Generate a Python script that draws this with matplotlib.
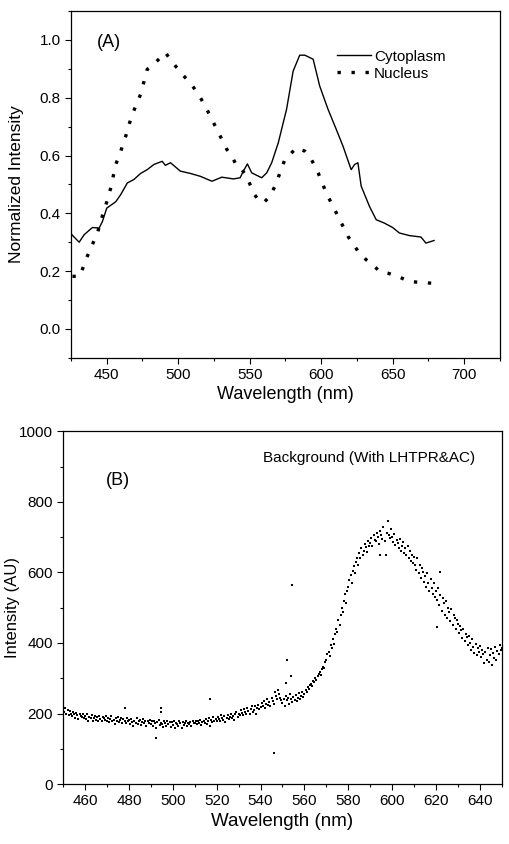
import numpy as np
import matplotlib
matplotlib.use("Agg")
import matplotlib.pyplot as plt
from matplotlib.ticker import MultipleLocator

plt.rcParams['font.family'] = ['Liberation Sans', 'DejaVu Sans']

# panel A: normalized spectra
cyto_wl = [425.6, 430.7, 434.2, 440.0, 444.7, 447.0, 450.0, 456.3, 459.8, 464.4, 469.0, 473.7,
           478.3, 483.0, 488.8, 491.0, 494.6, 501.5, 508.5, 515.5, 523.6, 530.5, 538.7, 543.3,
           545.6, 548.4, 551.4, 558.4, 561.9, 565.4, 570.0, 575.8, 580.4, 585.0, 588.6, 594.4,
           599.0, 604.8, 610.6, 615.3, 621.0, 623.4, 625.7, 628.0, 633.8, 638.5, 644.3, 650.0,
           654.7, 661.7, 669.8, 673.3, 679.0]
cyto_int = [0.326, 0.300, 0.326, 0.351, 0.349, 0.372, 0.418, 0.440, 0.465, 0.505, 0.517, 0.538,
            0.551, 0.569, 0.580, 0.566, 0.575, 0.546, 0.538, 0.528, 0.511, 0.525, 0.519, 0.523,
            0.546, 0.571, 0.540, 0.523, 0.540, 0.575, 0.644, 0.760, 0.892, 0.947, 0.947, 0.933,
            0.840, 0.760, 0.690, 0.632, 0.551, 0.569, 0.575, 0.494, 0.424, 0.378, 0.366, 0.351,
            0.332, 0.323, 0.318, 0.297, 0.306]

nuc_wl = [426.0, 431.2, 435.4, 438.9, 443.5, 447.0, 450.5, 452.8, 456.3, 459.8, 463.3, 466.7,
          470.2, 473.7, 478.3, 483.0, 487.6, 491.0, 498.0, 505.0, 510.8, 515.5, 518.9, 522.4,
          525.9, 529.4, 534.0, 537.5, 541.0, 544.5, 548.0, 552.6, 556.0, 559.6, 564.2, 567.7,
          571.2, 574.6, 578.1, 582.8, 588.6, 593.2, 597.9, 603.6, 608.3, 611.8, 615.3, 618.8,
          623.4, 626.9, 631.6, 636.2, 640.8, 646.6, 653.6, 661.7, 669.8, 677.9]
nuc_int = [0.182, 0.182, 0.240, 0.280, 0.332, 0.392, 0.447, 0.488, 0.569, 0.615, 0.667, 0.725,
           0.771, 0.812, 0.898, 0.916, 0.939, 0.956, 0.910, 0.869, 0.835, 0.800, 0.771, 0.736,
           0.702, 0.667, 0.621, 0.598, 0.563, 0.551, 0.528, 0.470, 0.447, 0.436, 0.459, 0.494,
           0.540, 0.586, 0.603, 0.627, 0.615, 0.586, 0.540, 0.470, 0.424, 0.390, 0.355, 0.320,
           0.286, 0.262, 0.239, 0.222, 0.199, 0.193, 0.182, 0.164, 0.161, 0.158]

# panel B: background scatter, sampled every 0.5 nm from 450 to 650
bg_wl = np.arange(450, 650.5, 0.5)
bg_int = [
    222, 205, 215, 198, 210, 195, 208, 200, 192, 205, 198, 188, 202, 195, 185, 200, 192, 190, 198, 186,
    192, 185, 198, 180, 190, 187, 195, 178, 188, 192, 183, 190, 180, 194, 185, 178, 190, 186, 182, 192,
    180, 188, 175, 185, 192, 178, 183, 170, 186, 180, 190, 176, 182, 188, 174, 185, 180, 172, 186, 178,
    182, 170, 185, 176, 165, 180, 174, 188, 170, 178, 182, 168, 175, 185, 172, 178, 166, 180, 174, 183,
    170, 178, 165, 180, 172, 160, 176, 182, 168, 174, 170, 163, 178, 172, 166, 180, 170, 175, 162, 176,
    168, 178, 160, 174, 170, 165, 180, 172, 158, 175, 168, 172, 178, 165, 174, 170, 176, 166, 180, 172,
    174, 180, 170, 178, 172, 182, 168, 176, 180, 174, 185, 170, 178, 188, 165, 182, 176, 190, 180, 185,
    180, 190, 184, 178, 195, 186, 182, 192, 175, 188, 196, 184, 190, 200, 186, 194, 182, 198, 205, 190,
    200, 196, 210, 202, 195, 212, 205, 200, 216, 208, 198, 214, 220, 205, 210, 222, 200, 215, 225, 212,
    218, 230, 222, 235, 215, 228, 240, 225, 232, 220, 245, 236, 228, 262, 250, 240, 268, 255, 245, 238,
    230, 242, 220, 250, 238, 245, 228, 255, 240, 232, 248, 238, 252, 236, 244, 258, 240, 250, 262, 248,
    255, 268, 262, 275, 270, 280, 285, 278, 292, 288, 300, 296, 305, 312, 318, 310, 325, 332, 328, 345,
    352, 368, 375, 362, 395, 385, 410, 398, 425, 440, 432, 465, 450, 478, 500, 488, 520, 540, 512, 548,
    560, 578, 592, 570, 605, 618, 598, 630, 642, 622, 655, 640, 668, 650, 662, 680, 672, 658, 690, 676,
    682, 698, 675, 705, 692, 688, 712, 700, 680, 718, 705, 695, 728, 690, 650, 712, 745, 705, 698, 722,
    700, 685, 708, 678, 692, 682, 670, 695, 660, 675, 685, 655, 668, 648, 675, 640, 660, 632, 650, 628,
    645, 622, 608, 640, 598, 620, 585, 612, 600, 572, 590, 560, 598, 570, 548, 582, 556, 540, 570, 530,
    548, 522, 555, 508, 535, 490, 528, 512, 480, 520, 470, 500, 488, 462, 495, 450, 478, 470, 440, 465,
    455, 428, 448, 438, 415, 440, 405, 425, 418, 395, 420, 400, 380, 410, 388, 372, 398, 365, 385, 375,
    392, 360, 380, 370, 342, 375, 352, 385, 345, 365, 382, 338, 372, 358, 388, 352, 378, 368, 395, 380,
    385,
]
# stray points off the main trend
out_wl = [478.4, 492.4, 494.4, 494.6, 517.0, 546.0, 551.7, 552.0, 554.0, 554.2, 594.5, 620.5, 621.9]
out_int = [215, 130, 215, 205, 240, 88, 286, 352, 305, 564, 650, 444, 602]

fig = plt.figure(figsize=(5.09, 8.44), dpi=100)

# ---- panel A ----
ax1 = fig.add_axes([0.1395, 0.576, 0.8425, 0.411])
ax1.plot(cyto_wl, cyto_int, color='black', lw=1.0, label='Cytoplasm')
ax1.plot(nuc_wl, nuc_int, color='black', lw=2.4, linestyle=(0, (1, 3.2)),
         dash_capstyle='butt', label='Nucleus')
ax1.set_xlim(425, 725)
ax1.set_ylim(-0.1, 1.1)
ax1.xaxis.set_major_locator(MultipleLocator(50))
ax1.xaxis.set_minor_locator(MultipleLocator(25))
ax1.yaxis.set_minor_locator(MultipleLocator(0.1))
ax1.set_yticks([0.0, 0.2, 0.4, 0.6, 0.8, 1.0])
ax1.set_yticklabels(['0.0', '0.2', '0.4', '0.6', '0.8', '1.0'])
ax1.set_xlabel('Wavelength (nm)', fontsize=13, labelpad=3)
ax1.set_ylabel('Normalized Intensity', fontsize=12.5)
ax1.yaxis.set_label_coords(-0.11, 0.5)
ax1.text(0.06, 0.91, '(A)', transform=ax1.transAxes, fontsize=13, va='center')
ax1.legend(loc='upper left', bbox_to_anchor=(0.6, 0.915), frameon=False, fontsize=11,
           handlelength=2.2, handletextpad=0.2, labelspacing=0.2, borderaxespad=0.2)

# ---- panel B ----
ax2 = fig.add_axes([0.124, 0.071, 0.862, 0.418])
ax2.scatter(bg_wl, bg_int, s=4, color='black', marker='s', linewidths=0)
ax2.scatter(out_wl, out_int, s=4, color='black', marker='s', linewidths=0)
ax2.set_xlim(450, 650)
ax2.set_ylim(0, 1000)
ax2.xaxis.set_major_locator(MultipleLocator(20))
ax2.xaxis.set_minor_locator(MultipleLocator(10))
ax2.yaxis.set_major_locator(MultipleLocator(200))
ax2.yaxis.set_minor_locator(MultipleLocator(100))
ax2.set_xlabel('Wavelength (nm)', fontsize=13.5, labelpad=3)
ax2.set_ylabel('Intensity (AU)', fontsize=12)
ax2.yaxis.set_label_coords(-0.098, 0.5)
ax2.text(0.098, 0.861, '(B)', transform=ax2.transAxes, fontsize=13, va='center')
ax2.text(0.456, 0.923, 'Background (With LHTPR&AC)', transform=ax2.transAxes,
         fontsize=11, va='center')

for ax in (ax1, ax2):
    ax.tick_params(which='major', direction='out', length=4, width=0.8, labelsize=11)
    ax.tick_params(which='minor', direction='out', length=2.5, width=0.8)
    for sp in ax.spines.values():
        sp.set_linewidth(0.9)

fig.savefig('out.png', dpi=100)
